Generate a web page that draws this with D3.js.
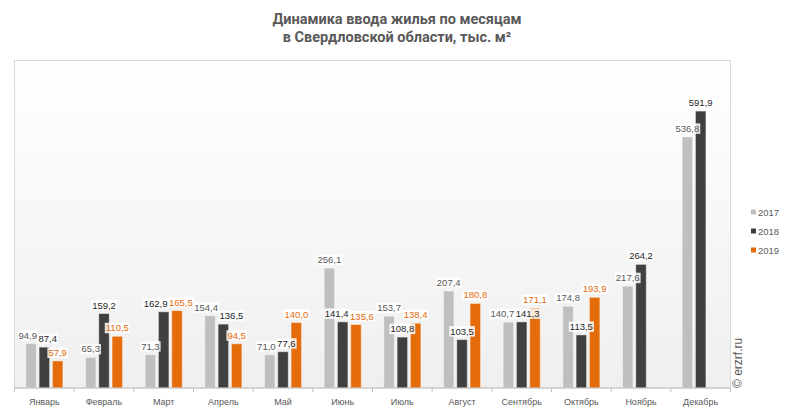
<!DOCTYPE html>
<html>
<head>
<meta charset="utf-8">
<script src="https://cdn.jsdelivr.net/npm/d3@7"></script>
<style>
  body { margin: 0; background: #fff; }
  svg { display: block; }
  text { font-family: "Liberation Sans", Arial, sans-serif; }
</style>
</head>
<body>
<svg id="chart" width="793" height="415"></svg>
<script>
const months = ["Январь", "Февраль", "Март", "Апрель", "Май", "Июнь", "Июль", "Август", "Сентябрь", "Октябрь", "Ноябрь", "Декабрь"];
const years = ["2017", "2018", "2019"];
const values2017 = [94.9, 65.3, 71.3, 154.4, 71.0, 256.1, 153.7, 207.4, 140.7, 174.8, 217.6, 536.8];
const values2018 = [87.4, 159.2, 162.9, 136.5, 77.6, 141.4, 108.8, 103.5, 141.3, 113.5, 264.2, 591.9];
const values2019 = [57.9, 110.5, 165.5, 94.5, 140.0, 135.6, 138.4, 180.8, 171.1, 193.9, null, null];
const titleLines = ["Динамика ввода жилья по месяцам", "в Свердловской области, тыс. м²"];

const series = [values2017, values2018, values2019];
const barColors = ["#bfbfbf", "#404040", "#e46c0a"];
const labelColors = ["#595959", "#262626", "#e46c0a"];

const svg = d3.select("#chart");
const plotLeft = 14.5, plotRight = 730.5, plotTop = 60.5, plotBottom = 388;

// plot area background
const grad = svg.append("defs").append("linearGradient")
    .attr("id", "bg").attr("x1", 0).attr("y1", 0).attr("x2", 0).attr("y2", 1);
grad.append("stop").attr("offset", "0%").attr("stop-color", "#ffffff");
grad.append("stop").attr("offset", "100%").attr("stop-color", "#efefef");

svg.append("rect")
    .attr("x", plotLeft).attr("y", plotTop)
    .attr("width", plotRight - plotLeft).attr("height", plotBottom - plotTop)
    .attr("fill", "url(#bg)")
    .attr("stroke", "#d9d9d9");

// title
svg.append("text")
    .attr("x", 397).attr("y", 24)
    .attr("text-anchor", "middle")
    .style("font-family", "Roboto, sans-serif")
    .style("font-weight", "bold")
    .style("font-size", "14.5px")
    .attr("fill", "#595959")
    .selectAll("tspan")
    .data(titleLines)
    .enter()
    .append("tspan")
    .attr("x", 397)
    .attr("dy", (d, i) => i === 0 ? 0 : 18)
    .text(d => d);

const x0 = d3.scaleBand().domain(months).range([plotLeft, plotRight]).padding(0);
const x1 = d3.scaleBand().domain(years).range([11.3, 48.4]).paddingInner(0.21);
const y = d3.scaleLinear().domain([0, 700]).range([plotBottom, plotTop]);

const data = [];
months.forEach((m, i) => {
    years.forEach((yr, k) => {
        const v = series[k][i];
        if (v != null) data.push({ month: m, year: yr, k: k, value: v });
    });
});

svg.append("g")
    .selectAll("rect")
    .data(data)
    .enter()
    .append("rect")
    .attr("x", d => x0(d.month) + x1(d.year))
    .attr("y", d => y(d.value))
    .attr("width", x1.bandwidth())
    .attr("height", d => plotBottom - y(d.value))
    .attr("fill", d => barColors[d.k])
    .attr("stroke", "rgba(255,255,255,0.45)")
    .attr("stroke-width", 1);

// x axis
const xAxis = svg.append("g")
    .attr("transform", "translate(0," + plotBottom + ")");
xAxis.append("line")
    .attr("x1", plotLeft).attr("x2", plotRight)
    .attr("stroke", "#bfbfbf");
xAxis.selectAll(".tick")
    .data(d3.range(months.length + 1))
    .enter()
    .append("line")
    .attr("x1", i => plotLeft + i * x0.step())
    .attr("x2", i => plotLeft + i * x0.step())
    .attr("y1", 0).attr("y2", 4)
    .attr("stroke", "#bfbfbf");
xAxis.selectAll("text")
    .data(months)
    .enter()
    .append("text")
    .attr("x", d => x0(d) + x0.bandwidth() / 2)
    .attr("y", 17)
    .attr("text-anchor", "middle")
    .style("font-size", "9px")
    .attr("fill", "#595959")
    .text(d => d);

// data labels
const fmt = v => d3.format(".1f")(v).replace(".", ",");
const labelLayer = svg.append("g");
const labels = data.map(d => {
    const g = labelLayer.append("g");
    const bg = g.append("rect").attr("fill", "#fff").attr("fill-opacity", 0.85);
    const t = g.append("text")
        .attr("text-anchor", "middle")
        .style("font-size", "9.5px")
        .attr("fill", labelColors[d.k])
        .text(fmt(d.value));
    return {
        d: d, g: g, bg: bg, t: t,
        x: x0(d.month) + x1(d.year) + x1.bandwidth() / 2,
        y: y(d.value) - 5,
        w: t.node().getComputedTextLength()
    };
});

// push apart labels that collide
for (let pass = 0; pass < 20; pass++) {
    labels.sort((a, b) => a.x - b.x);
    for (let i = 0; i < labels.length; i++) {
        for (let j = i + 1; j < labels.length; j++) {
            const a = labels[i], b = labels[j];
            if (Math.abs(a.y - b.y) >= 11) continue;
            const ov = (a.x + a.w / 2 + 1.5) - (b.x - b.w / 2);
            if (ov > 0) { a.x -= ov / 2; b.x += ov / 2; }
        }
    }
}

labels.forEach(l => {
    l.t.attr("x", l.x).attr("y", l.y);
    l.bg.attr("x", l.x - l.w / 2 - 1).attr("y", l.y - 8.5)
        .attr("width", l.w + 2).attr("height", 10.5);
});

// legend
const legend = svg.append("g")
    .selectAll("g")
    .data(years)
    .enter()
    .append("g")
    .attr("transform", (d, i) => "translate(751," + (212 + i * 19) + ")");
legend.append("rect")
    .attr("x", 0).attr("y", -2.5)
    .attr("width", 5).attr("height", 5)
    .attr("fill", (d, i) => barColors[i]);
legend.append("text")
    .attr("x", 7).attr("y", 3.5)
    .style("font-size", "9.5px")
    .attr("fill", "#595959")
    .text(d => d);

// watermark
svg.append("text")
    .attr("transform", "translate(742,388) rotate(-90)")
    .style("font-size", "12px")
    .attr("fill", "#595959")
    .text("© erzrf.ru");
</script>
</body>
</html>
